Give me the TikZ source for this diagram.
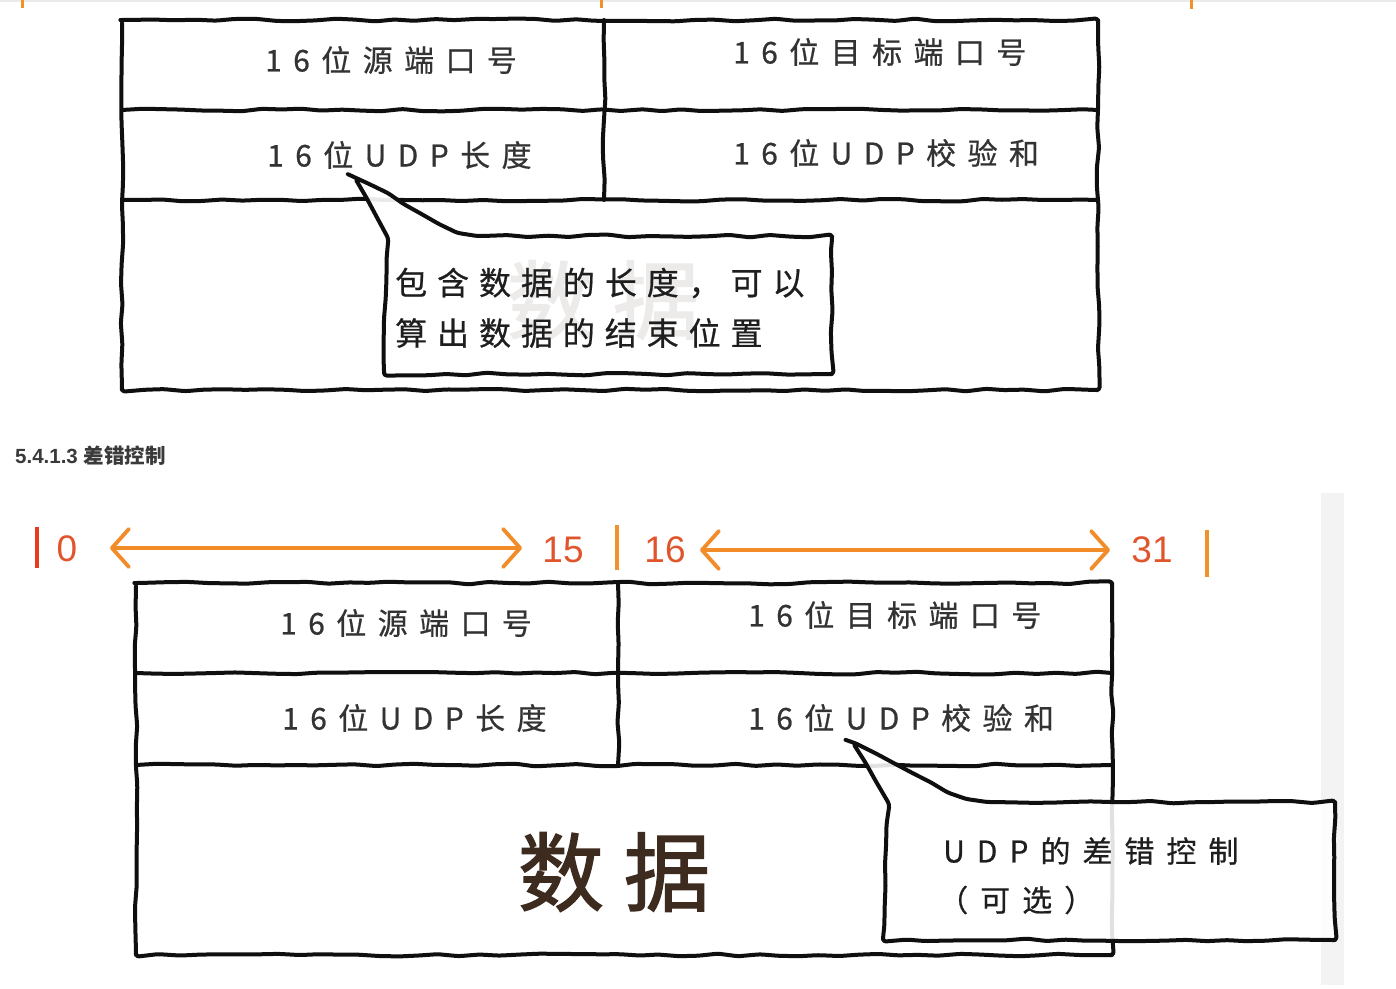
\documentclass[tikz,border=0pt]{standalone}
\usepackage{fontspec}
\setmainfont{Liberation Sans}
\newfontfamily\cjk[LetterSpace=38,FakeBold=0.6]{Noto Sans CJK SC}
\newfontfamily\cjkc[LetterSpace=31,FakeBold=0.6]{Noto Sans CJK SC}
\newfontfamily\cjkd[LetterSpace=40,FakeBold=0.6]{Noto Sans CJK SC}
\newfontfamily\cjkdata[FakeBold=1.6]{Noto Sans CJK SC}
\newfontfamily\cjkplain{Noto Sans CJK SC}
\usetikzlibrary{decorations.pathmorphing,arrows.meta}
\definecolor{labelc}{HTML}{333333}
\definecolor{callc}{HTML}{1E1E1E}
\definecolor{datac}{HTML}{3D2B20}
\definecolor{numc}{HTML}{E0552B}
\definecolor{tickred}{HTML}{E63B1F}
\definecolor{tickor}{HTML}{F0922B}
\definecolor{arrc}{HTML}{F28C28}
\definecolor{headc}{HTML}{3A3A3A}
\definecolor{barc}{HTML}{F3F3F3}
\tikzset{
  hand/.style={line width=4pt, draw=black!94, decorate,
    decoration={random steps, segment length=20pt, amplitude=1.4pt},
    rounded corners=3pt, line cap=round, line join=round},
  lbl/.style={anchor=west, inner sep=0pt, text=labelc, font=\cjk\fontsize{30}{36}\selectfont},
  calltxt/.style={anchor=west, inner sep=0pt, text=callc},
  datatxt/.style={inner sep=0pt, text=datac, font=\cjkdata\fontsize{86}{90}\selectfont},
  num/.style={inner sep=0pt, text=numc, font=\fontsize{37}{40}\selectfont},
  ticker/.style={line width=3.6pt},
  orarrow/.style={draw=arrc, line width=3.8pt, line cap=round, line join=round,
    {Straight Barb[length=17pt,width=38pt,line cap=round,line join=round]}-{Straight Barb[length=17pt,width=38pt,line cap=round,line join=round]}}
}
\begin{document}
\begin{tikzpicture}[x=1pt,y=-1pt]
\pgfmathsetseed{11}
\useasboundingbox (0,0) rectangle (1396,988);
\fill[white] (0,0) rectangle (1396,988);
% top page edge remnants
\draw[line width=2.5pt, draw=black!8] (0,1) -- (1396,1);
\draw[line width=3pt, draw=tickor] (22,0) -- (22,8);
\draw[line width=3pt, draw=tickor] (601,0) -- (601,8);
\draw[line width=3pt, draw=tickor] (1191,0) -- (1191,9);
% scrollbar
\fill[barc] (1321,493) rectangle (1344,985);

% ---------- top table ----------
\draw[hand] (122,20) rectangle (1098,390);
\draw[hand] (122,110) -- (1098,110);
\draw[hand] (122,200) -- (1098,200);
\draw[hand] (604,20) -- (604,200);
\node[lbl] (t1) at (265,60) {16位源端口号};
\node[lbl] (t2) at (733,52) {16位目标端口号};
\node[lbl] (t3) at (267,155) {16位UDP长度};
\node[lbl] (t4) at (733,153) {16位UDP校验和};
\node[datatxt] (tdata) at (603,300) {数\hspace{20pt}据};
% top callout
\draw[hand, fill=white, fill opacity=0.91] (355,178) -- (387,236) -- (384,374) -- (832,374) -- (832,236) -- (480,236) .. controls (440,230) and (410,203) .. cycle;
\node[calltxt, font=\cjkc\fontsize{32}{38}\selectfont] (c1) at (395,283) {包含数据的长度，可以};
\node[calltxt, font=\cjkc\fontsize{32}{38}\selectfont] (c2) at (395,333) {算出数据的结束位置};

% ---------- heading ----------
\node[anchor=west, inner sep=0pt, text=headc] (head) at (15,456)
  {\fontsize{20.5}{24}\selectfont\bfseries 5.4.1.3 {\cjkplain 差错控制}};

% ---------- ruler ----------
\draw[ticker, draw=tickred] (37,527) -- (37,568);
\node[num] (n0) at (67,549) {0};
\coordinate (a1l) at (110,548);
\coordinate (a1r) at (522,548);
\draw[orarrow] (a1l) -- (a1r);
\node[num] (n15) at (563,550) {15};
\draw[ticker, draw=tickor] (617,525) -- (617,570);
\node[num] (n16) at (665,550) {16};
\coordinate (a2l) at (700,550);
\coordinate (a2r) at (1110,550);
\draw[orarrow] (a2l) -- (a2r);
\node[num] (n31) at (1152,550) {31};
\draw[ticker, draw=tickor] (1207,530) -- (1207,577);

% ---------- bottom table ----------
\draw[hand] (136,583) rectangle (1112,955);
\draw[hand] (136,673) -- (1112,673);
\draw[hand] (136,765) -- (1112,765);
\draw[hand] (618,583) -- (618,765);
\node[lbl] (b1) at (280,623) {16位源端口号};
\node[lbl] (b2) at (748,615) {16位目标端口号};
\node[lbl] (b3) at (282,718) {16位UDP长度};
\node[lbl] (b4) at (748,718) {16位UDP校验和};
\node[datatxt] (bdata) at (614,872) {数\hspace{20pt}据};
% bottom callout
\draw[hand, fill=white, fill opacity=0.88] (853,743) -- (888,802) -- (883,940) -- (1335,940) -- (1335,802) -- (990,802) .. controls (945,797) and (905,765) .. cycle;
\node[calltxt, font=\cjkd\fontsize{30}{36}\selectfont] (d1) at (943,851) {UDP的差错控制};
\node[calltxt, font=\cjkd\fontsize{30}{36}\selectfont] (d2) at (938,900) {（可选）};
\end{tikzpicture}
\end{document}
